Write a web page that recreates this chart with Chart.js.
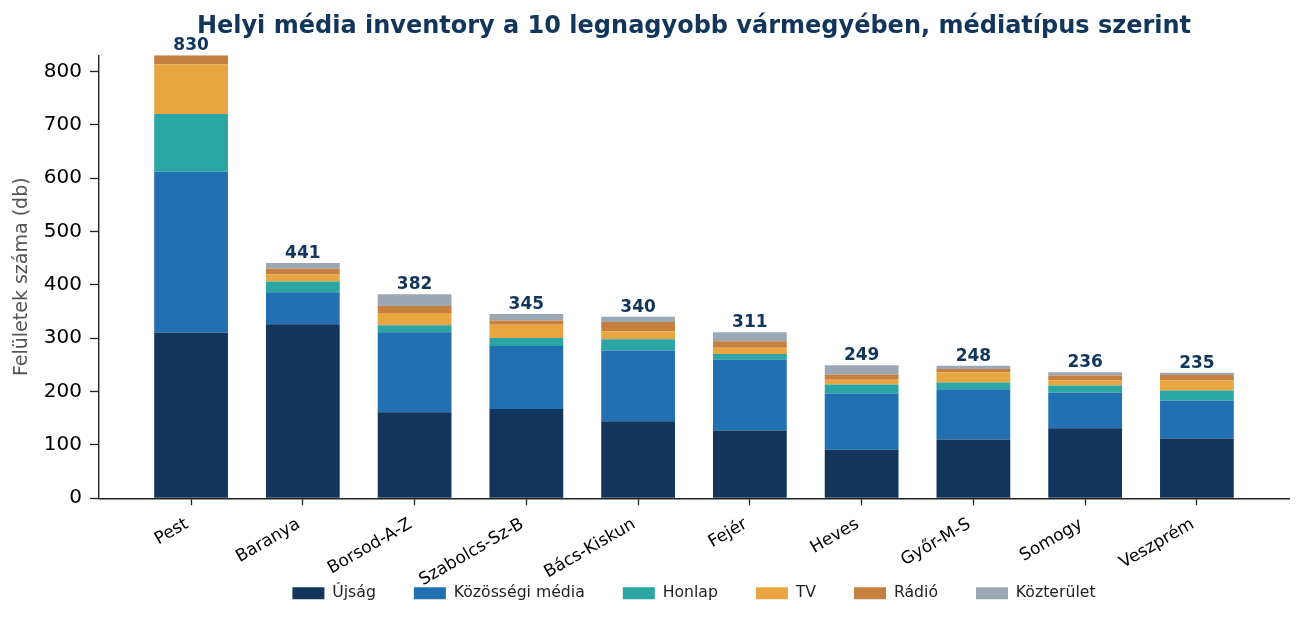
<!DOCTYPE html>
<html>
<head>
<meta charset="utf-8">
<script src="https://cdn.jsdelivr.net/npm/chart.js@4.4.1/dist/chart.umd.min.js"></script>
<style>
  html, body { margin: 0; padding: 0; background: #fff; }
</style>
</head>
<body>
<canvas id="mediaChart" width="1304" height="622"></canvas>
<script>
const counties = ["Pest", "Baranya", "Borsod-A-Z", "Szabolcs-Sz-B", "Bács-Kiskun", "Fejér", "Heves", "Győr-M-S", "Somogy", "Veszprém"];

const ujsag      = [310, 326, 161, 167, 144, 127,  91, 110, 131, 112];
const kozossegi  = [302,  60, 150, 118, 133, 133, 105,  94,  67,  71];
const honlap     = [108,  20,  13,  15,  21,  10,  17,  13,  13,  19];
const tv         = [ 93,  13,  23,  25,  15,  12,   9,  19,  10,  19];
const radio      = [ 17,  11,  13,   8,  17,  12,  10,   6,   9,  10];
const kozterulet = [  0,  11,  22,  12,  10,  17,  17,   6,   6,   4];

const yTicks = [0, 100, 200, 300, 400, 500, 600, 700, 800];

const navy = "#12355b";

// totals on top of the stacks
const totals = counties.map((_, i) =>
    ujsag[i] + kozossegi[i] + honlap[i] + tv[i] + radio[i] + kozterulet[i]);

function series(label, values, color) {
    return {
        label: label,
        data: values.map((v, i) => ({ x: i, y: v })),
        backgroundColor: color,
        borderWidth: 0,
        barPercentage: 0.66,
        categoryPercentage: 1.0
    };
}

const totalLabels = {
    id: "totalLabels",
    afterDatasetsDraw(chart) {
        const { ctx, scales: { x, y } } = chart;
        ctx.save();
        ctx.font = 'bold 17px "DejaVu Sans"';
        ctx.fillStyle = navy;
        ctx.textAlign = "center";
        ctx.textBaseline = "alphabetic";
        totals.forEach((t, i) => {
            ctx.fillText(String(t), x.getPixelForValue(i), y.getPixelForValue(t) - 5);
        });
        ctx.restore();
    }
};

// x labels hang down over the legend band: let them draw past the scale box
const labelRoom = {
    id: "labelRoom",
    afterLayout(chart) {
        chart.scales.x.bottom = chart.height;
    }
};

const ctx = document.getElementById("mediaChart").getContext("2d");

new Chart(ctx, {
    type: "bar",
    data: {
        datasets: [
            series("Újság", ujsag, "#12355b"),
            series("Közösségi média", kozossegi, "#2170b2"),
            series("Honlap", honlap, "#2ca6a4"),
            series("TV", tv, "#e8a540"),
            series("Rádió", radio, "#c57f3e"),
            series("Közterület", kozterulet, "#9ba8b4")
        ]
    },
    options: {
        responsive: false,
        animation: false,
        layout: { padding: { left: 7, right: 15, top: 0, bottom: 11 } },
        plugins: {
            title: {
                display: true,
                text: "Helyi média inventory a 10 legnagyobb vármegyében, médiatípus szerint",
                color: navy,
                fullSize: false,
                font: { family: "DejaVu Sans", size: 24, weight: "bold" },
                padding: { top: 12.5, bottom: 14 }
            },
            legend: {
                position: "bottom",
                fullSize: false,
                labels: {
                    boxWidth: 32,
                    boxHeight: 12,
                    padding: 38,
                    color: "#222",
                    font: { family: "DejaVu Sans", size: 15.7 }
                }
            },
            tooltip: { enabled: false }
        },
        scales: {
            x: {
                type: "linear",
                stacked: true,
                offset: false,
                min: -0.824,
                max: 9.824,
                afterBuildTicks: (scale) => {
                    scale.ticks = counties.map((_, i) => ({ value: i }));
                },
                afterFit: (scale) => { scale.height = 49.1; },
                ticks: {
                    autoSkip: false,
                    minRotation: 30,
                    maxRotation: 30,
                    padding: 9,
                    labelOffset: -4,
                    color: "#000",
                    font: { family: "DejaVu Sans", size: 17 },
                    callback: (v) => counties[v]
                },
                grid: {
                    offset: false,
                    drawOnChartArea: false,
                    drawTicks: true,
                    tickLength: 7,
                    tickWidth: 1.3,
                    tickColor: "#222"
                },
                border: { display: true, color: "#222", width: 1.4 }
            },
            y: {
                stacked: true,
                min: 0,
                max: 830,
                afterBuildTicks: (scale) => {
                    scale.ticks = yTicks.map(v => ({ value: v }));
                },
                ticks: {
                    padding: 8,
                    color: "#000",
                    font: { family: "DejaVu Sans", size: 20 }
                },
                grid: {
                    drawOnChartArea: false,
                    drawTicks: true,
                    tickLength: 9,
                    tickWidth: 1.3,
                    tickColor: "#222"
                },
                border: { display: true, color: "#222", width: 1.4 },
                title: {
                    display: true,
                    text: "Felületek száma (db)",
                    color: "#555",
                    font: { family: "DejaVu Sans", size: 19 },
                    padding: { top: 4, bottom: 2 }
                }
            }
        }
    },
    plugins: [totalLabels, labelRoom]
});
</script>
</body>
</html>
